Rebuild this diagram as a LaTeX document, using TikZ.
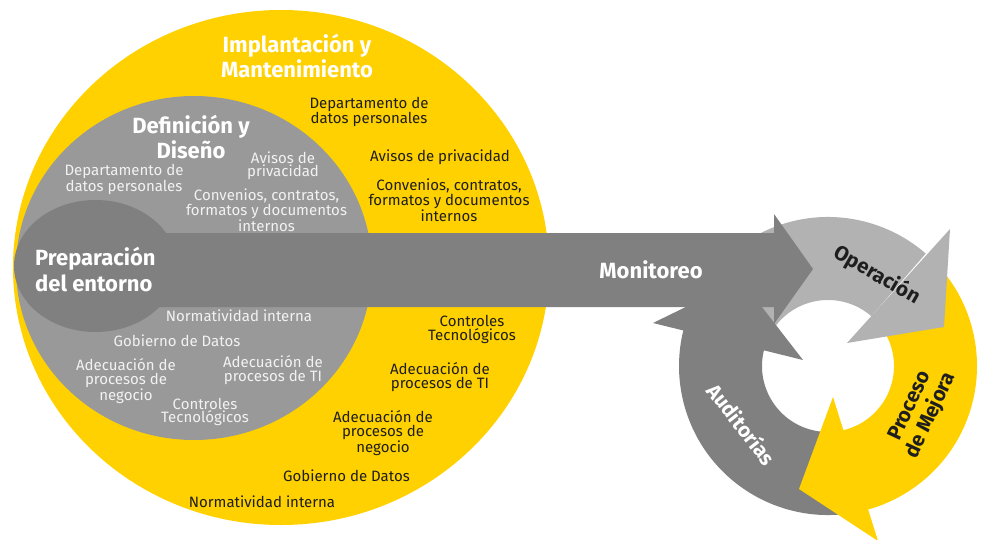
\documentclass[tikz,border=0pt]{standalone}
\usepackage{fontspec}
\setmainfont{Fira Sans}
\definecolor{cYellow}{RGB}{255,209,0}
\definecolor{cMid}{RGB}{153,153,153}
\definecolor{cDark}{RGB}{128,128,128}
\definecolor{cLight}{RGB}{178,178,178}
\definecolor{txtDark}{RGB}{30,30,30}
\definecolor{txtLight}{RGB}{242,242,242}
\tikzset{
  smalltxt/.style={font=\fontsize{15}{13.5}\selectfont, align=center, inner sep=0pt},
  onyellow/.style={smalltxt, text=txtDark},
  ongray/.style={smalltxt, text=txtLight},
  titletxt/.style={font=\fontsize{22}{25}\selectfont\bfseries, text=white, align=center, inner sep=0pt},
  ringtxt/.style={font=\fontsize{20.5}{23}\selectfont\bfseries, align=center, inner sep=0pt},
}
\begin{document}
\begin{tikzpicture}[x=1pt,y=-1pt]
\useasboundingbox (0,0) rectangle (984,540);
% circles
\fill[cYellow] (281,267.5) ellipse [x radius=268, y radius=257.5];
\fill[cMid] (194,268) ellipse [x radius=178, y radius=172];
% ring bodies
\begin{scope}[shift={(828,366)}]
  \fill[cDark] (79:149) arc[start angle=79, end angle=194.5, radius=149] -- (194.5:66) arc[start angle=194.5, end angle=79, radius=66] -- cycle;
  \fill[cLight] (195.5:149) arc[start angle=195.5, end angle=311, radius=149] -- (311:66) arc[start angle=311, end angle=195.5, radius=66] -- cycle;
  \fill[cYellow] (312.5:149) arc[start angle=312.5, end angle=437.5, radius=149] -- (437.5:66) arc[start angle=437.5, end angle=312.5, radius=66] -- cycle;
\end{scope}
% ring heads
\fill[cDark] (653,323) -- (741,280) -- (803,360) -- cycle;
\fill[cLight] (950,229) -- (944,327) -- (847,343) -- cycle;
\fill[cYellow] (833,397) -- (799,489) -- (878,541) -- cycle;
% big arrow
\fill[cDark] (90,233) -- (774,233) -- (774,214) -- (813,269) -- (774,324) -- (774,307) -- (90,307) -- cycle;
\fill[cDark] (95.5,266) ellipse [x radius=81.5, y radius=66];
% titles
\node[titletxt] (impl) at (297,56) {Implantación y\\Mantenimiento};
\node[titletxt] (defi) at (191,137) {Definición y\\Diseño};
\node[titletxt, align=left, anchor=west] (prep) at (35,269.5) {Preparación\\del entorno};
\node[titletxt] (moni) at (651,270) {Monitoreo};
% yellow texts
\node[onyellow] (y1) at (369,112) {Departamento de\\datos personales};
\node[onyellow] (y2) at (440,157) {Avisos de privacidad};
\node[onyellow] (y3) at (449,200) {Convenios, contratos,\\formatos y documentos\\internos};
\node[onyellow] (y4) at (472,329.5) {Controles\\Tecnológicos};
\node[onyellow] (y5) at (440,377) {Adecuación de\\procesos de TI};
\node[onyellow] (y6) at (383,433) {Adecuación de\\procesos de\\negocio};
\node[onyellow] (y7) at (346.5,476) {Gobierno de Datos};
\node[onyellow] (y8) at (262,502) {Normatividad interna};
% gray texts
\node[ongray] (g1) at (124,179.5) {Departamento de\\datos personales};
\node[ongray] (g2) at (283,165.5) {Avisos de\\privacidad};
\node[ongray] (g3) at (266.5,210) {Convenios, contratos,\\formatos y documentos\\internos};
\node[ongray] (g4) at (239,316) {Normatividad interna};
\node[ongray] (g5) at (177,341) {Gobierno de Datos};
\node[ongray] (g6) at (126,381) {Adecuación de\\procesos de\\negocio};
\node[ongray] (g7) at (273,370) {Adecuación de\\procesos de TI};
\node[ongray] (g8) at (205,412) {Controles\\Tecnológicos};
% ring texts
\node[ringtxt, text=txtDark, rotate=-30] (oper) at (877,275) {Operación};
\node[ringtxt, text=txtDark, rotate=65] (mejo) at (921,411) {Proceso\\de Mejora};
\node[ringtxt, text=white, rotate=-52] (audi) at (742,424) {Auditorías};
\end{tikzpicture}
\end{document}
